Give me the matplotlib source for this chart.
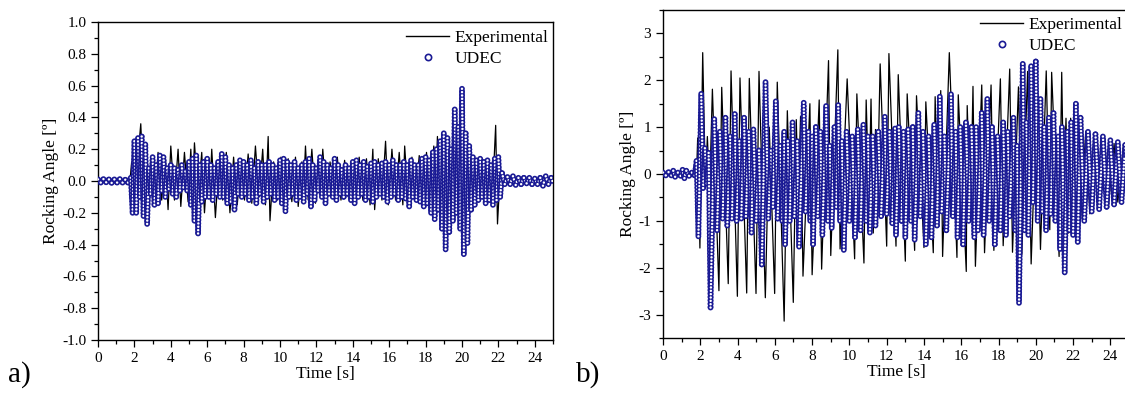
import numpy as np
import matplotlib.pyplot as plt
from matplotlib.lines import Line2D
from matplotlib.ticker import MultipleLocator, FormatStrFormatter

plt.rcParams['font.family'] = ['Liberation Serif', 'DejaVu Serif']
plt.rcParams['axes.unicode_minus'] = False
plt.rcParams['lines.scale_dashes'] = False

UDEC_BLUE = '#1a1a94'

# =========================
# PANEL a) - turning points
# =========================
a_exp_t = [0.0, 0.3, 0.6, 0.9, 1.2, 1.5, 1.75,
           1.85, 2.0, 2.15, 2.35, 2.5, 2.65, 2.8, 2.95, 3.1, 3.3,
           3.5, 3.7, 3.85, 4.0, 4.2, 4.4, 4.55, 4.75, 4.95, 5.1,
           5.2, 5.3, 5.5, 5.7, 5.85, 6.05, 6.15, 6.25, 6.45, 6.65,
           6.85, 7.05, 7.25, 7.45, 7.65, 7.85, 8.05, 8.25, 8.45, 8.65,
           8.85, 9.05, 9.2, 9.35, 9.45, 9.65, 9.85, 10.05, 10.25, 10.45,
           10.65, 10.85, 11.0, 11.2, 11.3, 11.4, 11.55, 11.75, 11.95, 12.15,
           12.25, 12.35, 12.55, 12.75, 12.95, 13.15, 13.35, 13.55, 13.75, 13.95,
           14.15, 14.35, 14.55, 14.75, 14.95, 15.1, 15.2, 15.4, 15.6, 15.8,
           15.95, 16.15, 16.35, 16.55, 16.75, 16.85, 17.05, 17.25, 17.45, 17.65,
           17.85, 18.05, 18.25, 18.45, 18.55, 18.65, 18.8, 19.0, 19.2, 19.4,
           19.6, 19.8, 20.0, 20.2, 20.4, 20.6, 20.8, 21.0, 21.2, 21.4,
           21.6, 21.75, 21.85, 21.95, 22.1, 22.3,
           22.6, 23.0, 23.4, 23.8, 24.2, 24.6, 25.0]
a_exp_v = [0.0, 0.005, -0.005, 0.01, -0.005, 0.008, -0.005,
           0.12, -0.1, 0.1, 0.36, -0.05, 0.2, -0.1, 0.15, -0.15, 0.18,
           -0.12, 0.15, -0.18, 0.22, -0.12, 0.2, -0.16, 0.18, -0.13, 0.2,
           -0.05, 0.24, -0.1, 0.18, -0.2, 0.15, -0.05, 0.2, -0.23, 0.12,
           -0.12, 0.18, -0.2, 0.15, -0.15, 0.12, -0.12, 0.17, -0.14, 0.22,
           -0.1, 0.2, -0.15, 0.28, -0.25, 0.12, -0.12, 0.15, -0.12, 0.14,
           -0.13, 0.15, -0.16, 0.12, -0.05, 0.22, -0.12, 0.2, -0.14, 0.13,
           -0.05, 0.2, -0.13, 0.12, -0.1, 0.15, -0.12, 0.13, -0.1, 0.12,
           -0.13, 0.15, -0.12, 0.14, -0.15, 0.2, -0.18, 0.14, -0.12, 0.25,
           -0.15, 0.2, -0.12, 0.18, -0.15, 0.22, -0.13, 0.15, -0.12, 0.16,
           -0.14, 0.18, -0.15, 0.22, -0.05, 0.28, -0.2, 0.2, -0.04, 0.05,
           -0.03, 0.05, -0.04, 0.1, -0.1, 0.12, -0.12, 0.15, -0.1, 0.12,
           -0.12, 0.1, 0.35, -0.27, 0.05, -0.02,
           0.01, -0.01, 0.01, -0.01, 0.01, -0.01, 0.0]

a_udec_t_start = [0.0, 0.15, 0.3, 0.45, 0.6, 0.75, 0.9, 1.05, 1.2, 1.35, 1.5, 1.65]
a_udec_v_start = [0.01, -0.01, 0.012, -0.008, 0.01, -0.012, 0.01, -0.01, 0.012, -0.01, 0.008, -0.01]

a_udec_t_mid = [1.8, 1.9, 2.0, 2.1, 2.2, 2.3, 2.4, 2.5, 2.6, 2.7,
                2.8, 2.9, 3.0, 3.1, 3.2, 3.3, 3.4, 3.5, 3.6, 3.7,
                3.8, 3.9, 4.0, 4.1, 4.2, 4.3, 4.4, 4.5, 4.6, 4.7,
                4.8, 4.9, 5.0, 5.1, 5.2, 5.3, 5.4, 5.5, 5.6, 5.7,
                5.8, 5.9, 6.0, 6.1, 6.2, 6.3, 6.4, 6.5, 6.6, 6.7,
                6.8, 6.9, 7.0, 7.1, 7.2, 7.3, 7.4, 7.5, 7.6, 7.7,
                7.8, 7.9, 8.0, 8.1, 8.2, 8.3, 8.4, 8.5, 8.6, 8.7,
                8.8, 8.9, 9.0, 9.1, 9.2, 9.3, 9.4, 9.5, 9.6, 9.7,
                9.8, 9.9, 10.0, 10.1, 10.2, 10.3, 10.4, 10.5, 10.6, 10.7,
                10.8, 10.9, 11.0, 11.1, 11.2, 11.3, 11.4, 11.5, 11.6, 11.7,
                11.8, 11.9, 12.0, 12.1, 12.2, 12.3, 12.4, 12.5, 12.6, 12.7,
                12.8, 12.9, 13.0, 13.1, 13.2, 13.3, 13.4, 13.5, 13.6, 13.7,
                13.8, 13.9, 14.0, 14.1, 14.2, 14.3, 14.4, 14.5, 14.6, 14.7,
                14.8, 14.9, 15.0, 15.1, 15.2, 15.3, 15.4, 15.5, 15.6, 15.7,
                15.8, 15.9, 16.0, 16.1, 16.2, 16.3, 16.4, 16.5, 16.6, 16.7,
                16.8, 16.9, 17.0, 17.1, 17.2, 17.3, 17.4, 17.5, 17.6, 17.7,
                17.8, 17.9, 18.0, 18.1, 18.2, 18.3, 18.4, 18.5, 18.6, 18.7,
                18.8, 18.9, 19.0, 19.1, 19.2, 19.3, 19.4, 19.5, 19.6, 19.7,
                19.8, 19.9, 20.0, 20.1, 20.2, 20.3, 20.4, 20.5, 20.6, 20.7,
                20.8, 20.9, 21.0, 21.1, 21.2, 21.3, 21.4, 21.5, 21.6, 21.7,
                21.8, 21.9, 22.0, 22.1, 22.2]
a_udec_v_mid = [0.02, -0.2, 0.25, -0.2, 0.27, -0.1, 0.28, -0.22, 0.23, -0.27,
                0.08, -0.08, 0.15, -0.15, 0.1, -0.14, 0.16, -0.06, 0.15, -0.1,
                0.08, -0.05, 0.1, -0.08, 0.08, -0.1, 0.07, -0.06, 0.1, -0.04,
                0.06, -0.06, 0.12, -0.15, 0.14, -0.25, 0.16, -0.33, 0.1, -0.13,
                0.12, -0.1, 0.14, -0.1, 0.1, -0.12, 0.08, -0.08, 0.12, -0.1,
                0.17, -0.1, 0.15, -0.14, 0.1, -0.13, 0.08, -0.18, 0.1, -0.08,
                0.13, -0.1, 0.12, -0.08, 0.1, -0.12, 0.13, -0.1, 0.08, -0.14,
                0.12, -0.08, 0.1, -0.13, 0.1, -0.1, 0.12, -0.08, 0.1, -0.12,
                0.08, -0.1, 0.13, -0.14, 0.14, -0.19, 0.12, -0.1, 0.1, -0.08,
                0.12, -0.12, 0.08, -0.1, 0.1, -0.13, 0.12, -0.08, 0.14, -0.16,
                0.1, -0.12, 0.08, -0.06, 0.15, -0.1, 0.12, -0.14, 0.1, -0.08,
                0.08, -0.1, 0.14, -0.12, 0.1, -0.08, 0.07, -0.1, 0.1, -0.08,
                0.08, -0.12, 0.12, -0.14, 0.13, -0.1, 0.1, -0.08, 0.12, -0.12,
                0.09, -0.1, 0.11, -0.13, 0.12, -0.1, 0.1, -0.08, 0.11, -0.1,
                0.12, -0.13, 0.1, -0.1, 0.13, -0.08, 0.1, -0.12, 0.1, -0.1,
                0.12, -0.11, 0.1, -0.16, 0.13, -0.1, 0.1, -0.12, 0.1, -0.13,
                0.14, -0.16, 0.15, -0.14, 0.13, -0.2, 0.18, -0.24, 0.2, -0.18,
                0.25, -0.3, 0.3, -0.43, 0.27, -0.32, 0.2, -0.25, 0.45, -0.2,
                0.34, -0.3, 0.58, -0.46, 0.3, -0.39, 0.22, -0.18, 0.15, -0.15,
                0.13, -0.12, 0.14, -0.1, 0.12, -0.14, 0.13, -0.12, 0.1, -0.15,
                0.14, -0.12, 0.15, -0.1, 0.05]

a_udec_t_end = [22.35, 22.5, 22.65, 22.8, 22.95, 23.1, 23.25, 23.4, 23.55, 23.7,
                23.85, 24.0, 24.15, 24.3, 24.45, 24.6, 24.75, 24.9, 25.0]
a_udec_v_end = [-0.02, 0.025, -0.02, 0.03, -0.025, 0.02, -0.02, 0.02, -0.015, 0.02,
                -0.02, 0.015, -0.02, 0.02, -0.03, 0.03, -0.02, 0.02, -0.01]

# =========================
# PANEL b)
# =========================
b_exp_t = [0.0, 0.3, 0.6, 0.9, 1.2, 1.5, 1.8,
           1.86, 1.98, 2.13, 2.28, 2.38, 2.5, 2.65, 3.0, 3.15, 3.5,
           3.65, 3.99, 4.13, 4.49, 4.63, 4.99, 5.15, 5.49, 5.7, 5.99,
           6.13, 6.5, 6.67, 6.99, 7.15, 7.25, 7.38, 7.51, 7.88, 8.0,
           8.38, 8.51, 8.88, 9.0, 9.38, 9.5, 9.88, 10.28, 10.4, 10.78,
           10.9, 11.05, 11.16, 11.28, 11.4, 11.5, 11.65, 12.0, 12.12, 12.5,
           12.62, 13.0, 13.1, 13.5, 13.6, 14.0, 14.1, 14.5, 14.6, 14.75,
           14.9, 15.0, 15.36, 15.77, 15.84, 16.27, 16.32, 16.5, 16.63, 16.76,
           17.1, 17.25, 17.6, 17.75, 18.1, 18.25, 18.6, 18.75, 19.07, 19.25,
           19.56, 19.75, 20.06, 20.25, 20.56, 20.75, 20.85, 21.25, 21.39, 21.5,
           21.62, 21.75, 21.87, 22.0, 22.25, 22.4, 22.68, 22.9, 23.2, 23.4,
           23.7, 23.9, 24.2, 24.4, 24.7, 24.9, 25.0]
b_exp_v = [0.0, 0.02, -0.02, 0.02, -0.03, 0.02, -0.02,
           0.77, -1.58, 2.59, -0.3, 0.8, -0.4, 1.81, -2.49, 1.85, -2.34,
           2.2, -2.61, 2.05, -2.54, 2.04, -2.55, 2.19, -2.64, 1.0, -2.55,
           1.96, -3.14, 1.35, -2.74, 1.16, -0.5, 1.23, -2.18, 1.5, -2.15,
           1.58, -2.03, 2.42, -1.74, 2.65, -1.6, 2.03, -1.81, 1.71, -1.9,
           1.58, -0.6, 1.6, -1.26, 0.95, -0.5, 2.35, -1.54, 2.57, -1.54,
           2.12, -1.86, 1.71, -1.63, 1.67, -1.57, 1.54, -1.68, 1.65, -0.8,
           1.78, -1.76, 2.59, -1.78, 1.69, -2.08, 1.46, -0.8, 1.87, -1.97,
           1.9, -1.68, 1.9, -1.63, 2.03, -1.53, 2.24, -1.67, 1.86, -1.72,
           2.19, -1.92, 1.71, -1.61, 2.2, -1.19, 2.17, -1.76, 2.17, -0.5,
           1.19, -1.26, 1.19, -0.8, 1.0, -0.97, 0.91, -0.85, 0.87, -0.75,
           0.75, -0.68, 0.65, -0.6, 0.6, -0.55, 0.0]

b_udec_t_start = [0.0, 0.15, 0.3, 0.45, 0.55, 0.65, 0.8, 0.95, 1.05, 1.15, 1.25, 1.4, 1.55, 1.7]
b_udec_v_start = [0.03, -0.03, 0.04, -0.03, 0.07, -0.06, 0.03, -0.04, 0.09, -0.09, 0.07, -0.04, 0.03, -0.03]

b_udec_t_mid = [1.8, 1.9, 2.05, 2.15, 2.25, 2.35, 2.45, 2.55, 2.75, 2.9,
                3.05, 3.2, 3.35, 3.45, 3.6, 3.7, 3.85, 3.95, 4.1, 4.2,
                4.35, 4.45, 4.6, 4.75, 4.85, 5.0, 5.15, 5.3, 5.5, 5.65,
                5.8, 5.9, 6.05, 6.15, 6.3, 6.4, 6.5, 6.55, 6.7, 6.8,
                6.95, 7.05, 7.2, 7.3, 7.55, 7.65, 7.8, 7.9, 8.0, 8.05,
                8.2, 8.3, 8.45, 8.55, 8.75, 8.85, 8.95, 9.05, 9.2, 9.3,
                9.4, 9.5, 9.6, 9.7, 9.85, 10.0, 10.15, 10.3, 10.45, 10.6,
                10.75, 10.9, 11.0, 11.1, 11.25, 11.4, 11.55, 11.7, 11.9, 12.0,
                12.15, 12.3, 12.45, 12.5, 12.65, 12.8, 12.9, 13.0, 13.15, 13.3,
                13.4, 13.5, 13.7, 13.8, 13.95, 14.1, 14.25, 14.4, 14.55, 14.7,
                14.85, 14.95, 15.1, 15.2, 15.45, 15.55, 15.7, 15.8, 15.95, 16.1,
                16.25, 16.4, 16.55, 16.7, 16.8, 16.9, 17.1, 17.2, 17.4, 17.5,
                17.65, 17.8, 17.95, 18.1, 18.25, 18.4, 18.5, 18.6, 18.8, 18.9,
                19.0, 19.1, 19.3, 19.4, 19.5, 19.6, 19.75, 19.85, 20.0, 20.1,
                20.25, 20.35, 20.45, 20.55, 20.7, 20.8, 20.95, 21.05, 21.2, 21.3,
                21.4, 21.55, 21.7, 21.8, 21.9, 22.0, 22.15, 22.25]
b_udec_v_mid = [0.28, -1.33, 1.71, -0.3, 0.55, -0.2, 0.45, -2.85, 1.17, -1.2,
                0.9, -0.95, 1.2, -1.1, 0.8, -0.95, 1.28, -1.0, 0.7, -0.95,
                1.2, -0.9, 0.9, -1.25, 0.95, -1.0, 0.5, -1.93, 1.96, -0.95,
                0.5, -0.7, 1.55, -0.95, 0.6, -1.0, 0.9, -1.5, 0.7, -1.0,
                1.1, -0.9, 0.7, -1.55, 1.52, -0.8, 0.9, -1.0, 0.8, -1.5,
                1.0, -0.9, 0.9, -1.3, 1.45, -1.0, 0.6, -1.15, 1.0, -0.7,
                1.47, -1.0, 0.7, -1.62, 0.9, -1.0, 0.8, -1.35, 0.95, -1.2,
                1.05, -1.0, 0.8, -1.25, 0.8, -1.1, 0.9, -0.9, 1.22, -0.85,
                0.9, -1.05, 0.97, -1.3, 1.0, -1.0, 0.9, -1.35, 0.95, -1.0,
                1.0, -1.4, 1.3, -0.9, 0.9, -1.5, 0.8, -1.35, 1.05, -1.1,
                1.65, -0.8, 0.8, -1.2, 1.7, -0.9, 0.9, -1.35, 1.0, -1.5,
                1.1, -1.0, 1.0, -1.35, 1.0, -1.2, 1.3, -1.3, 1.6, -1.0,
                1.0, -1.5, 0.8, -1.2, 1.1, -1.3, 0.9, -0.9, 1.2, -1.2,
                0.6, -2.75, 2.35, -1.2, 1.1, -1.3, 2.3, -0.6, 2.4, -1.0,
                1.6, -0.8, 1.0, -1.2, 1.2, -0.85, 1.3, -1.0, 0.8, -1.6,
                1.0, -2.1, 0.9, -1.2, 1.1, -1.3, 1.5, -1.45]

b_udec_t_end = [22.4, 22.6, 22.8, 23.0, 23.2, 23.4, 23.6, 23.8, 24.0, 24.2,
                24.4, 24.6, 24.8, 25.0]
b_udec_v_end = [1.2, -1.0, 0.9, -0.8, 0.85, -0.75, 0.8, -0.7, 0.72, -0.65,
                0.68, -0.6, 0.62, -0.58]

a_udec_t = a_udec_t_start + a_udec_t_mid + a_udec_t_end
a_udec_v = a_udec_v_start + a_udec_v_mid + a_udec_v_end
b_udec_t = b_udec_t_start + b_udec_t_mid + b_udec_t_end
b_udec_v = b_udec_v_start + b_udec_v_mid + b_udec_v_end


def draw_udec(ax, t, v):
    # hollow circle symbols strung along the UDEC trace; each swing is drawn
    # ring then hole, so later symbols sit on top of earlier ones
    dots = (0, (0.01, 2.4))
    for i in range(len(t) - 1):
        ax.plot(t[i:i + 2], v[i:i + 2], color=UDEC_BLUE, lw=4.2, ls=dots,
                dash_capstyle='round', zorder=3)
        ax.plot(t[i:i + 2], v[i:i + 2], color='white', lw=1.8, ls=dots,
                dash_capstyle='round', zorder=3)


def style_axes(ax, ymaj, ymin, yfmt):
    ax.set_xlim(0, 25)
    ax.xaxis.set_major_locator(MultipleLocator(2))
    ax.xaxis.set_minor_locator(MultipleLocator(1))
    ax.yaxis.set_major_locator(MultipleLocator(ymaj))
    ax.yaxis.set_minor_locator(MultipleLocator(ymin))
    ax.yaxis.set_major_formatter(FormatStrFormatter(yfmt))
    ax.tick_params(which='both', direction='out', top=False, right=False,
                   labelsize=11, width=0.9)
    ax.tick_params(which='major', length=5)
    ax.tick_params(which='minor', length=3)
    for s in ax.spines.values():
        s.set_linewidth(1.0)
    ax.set_xlabel('Time [s]', fontsize=12.5, labelpad=1)
    ax.set_ylabel('Rocking Angle [º]', fontsize=12.5, labelpad=2)


fig = plt.figure(figsize=(11.25, 3.93), dpi=100)

ax1 = fig.add_axes([98 / 1125, 1 - 340 / 393, 455 / 1125, 318 / 393])
ax1.plot(a_exp_t, a_exp_v, color='black', lw=0.9, zorder=2)
draw_udec(ax1, a_udec_t, a_udec_v)
ax1.set_ylim(-1.0, 1.0)
style_axes(ax1, 0.2, 0.1, '%.1f')

ax2 = fig.add_axes([663 / 1125, 1 - 338 / 393, 466 / 1125, 328 / 393])
ax2.plot(b_exp_t, b_exp_v, color='black', lw=0.9, zorder=2)
draw_udec(ax2, b_udec_t, b_udec_v)
ax2.set_ylim(-3.5, 3.5)
style_axes(ax2, 1, 0.5, '%d')

h_exp = Line2D([], [], color='black', lw=1.0)
h_udec = Line2D([], [], ls='none', marker='o', ms=4.5, mfc='white',
                mec=UDEC_BLUE, mew=1.2)
for ax, (lx, ly) in [(ax1, (406, 30)), (ax2, (980, 17))]:
    ax.legend([h_exp, h_udec], ['Experimental', 'UDEC'], loc='upper left',
              bbox_to_anchor=(lx / 1125, 1 - ly / 393), bbox_transform=fig.transFigure,
              frameon=False, fontsize=12.5, handlelength=2.5, handletextpad=0.3,
              labelspacing=0.25, borderpad=0, borderaxespad=0)

fig.text(8 / 1125, 0.012, 'a)', fontsize=21, va='bottom')
fig.text(576 / 1125, 0.012, 'b)', fontsize=21, va='bottom')

fig.savefig('out.png', dpi=100)
